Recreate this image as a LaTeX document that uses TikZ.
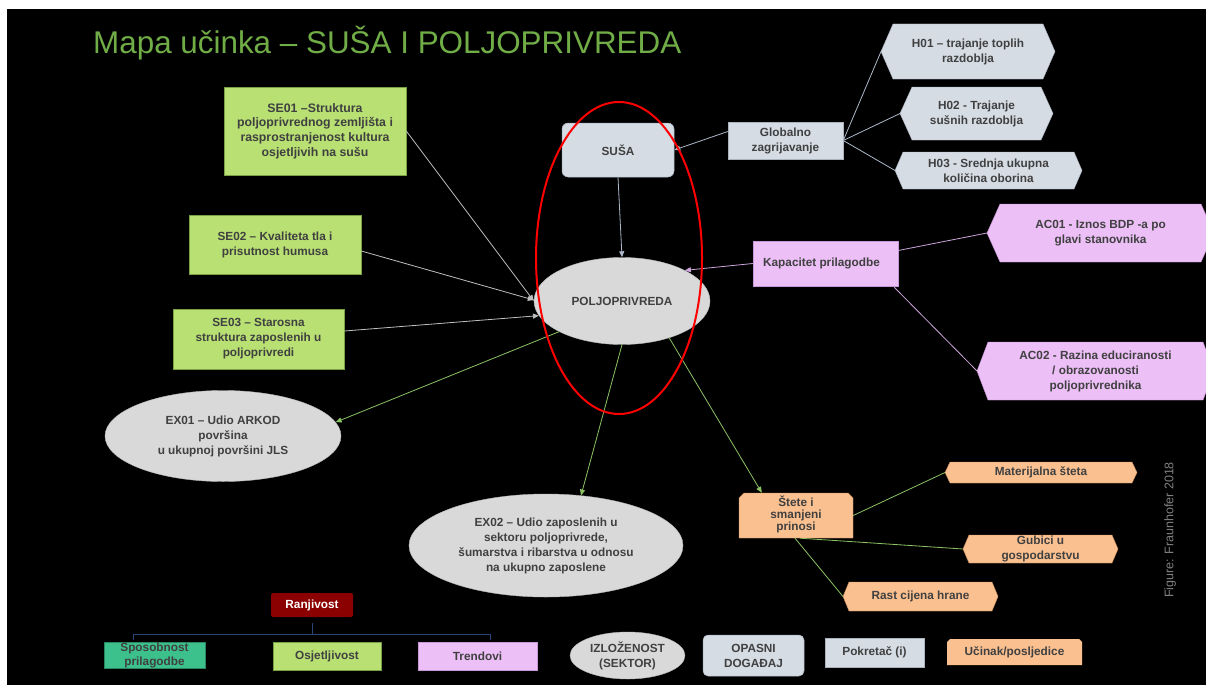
\documentclass[tikz,border=0pt]{standalone}
\usepackage{fontspec}
\setmainfont{Liberation Sans}
\usetikzlibrary{arrows.meta,shapes.geometric,calc}

\definecolor{titlegreen}{RGB}{112,173,71}
\definecolor{segreen}{RGB}{184,224,115}
\definecolor{segreenline}{RGB}{120,160,70}
\definecolor{exgray}{RGB}{217,217,217}
\definecolor{hzblue}{RGB}{214,220,228}
\definecolor{hzline}{RGB}{170,178,190}
\definecolor{acpink}{RGB}{236,191,247}
\definecolor{acline}{RGB}{200,150,215}
\definecolor{imporange}{RGB}{250,192,143}
\definecolor{impline}{RGB}{200,140,90}
\definecolor{myteal}{RGB}{60,192,140}
\definecolor{ranjred}{RGB}{139,0,0}
\definecolor{txtgray}{RGB}{64,64,64}
\definecolor{lgray}{RGB}{191,191,191}
\definecolor{arrgreen}{RGB}{140,195,100}
\definecolor{arrblue}{RGB}{173,185,202}
\definecolor{arrpink}{RGB}{205,165,220}
\definecolor{brkblue}{RGB}{40,70,120}
\definecolor{figgray}{RGB}{128,128,128}

% #1 name, #2 style, #3 x left, #4 x right, #5 y top, #6 y bottom, #7 indent, #8 text
\newcommand\hexbox[8]{%
  \draw[#2] (#3,{(#5+#6)/2}) -- (#3+#7,#5) -- (#4-#7,#5) -- (#4,{(#5+#6)/2})
    -- (#4-#7,#6) -- (#3+#7,#6) -- cycle;
  \node[txt] (#1) at ({(#3+#4)/2},{(#5+#6)/2}) {#8};
  \coordinate (#1-w) at (#3,{(#5+#6)/2});
}

\begin{document}
\begin{tikzpicture}[x=1pt,y=-1pt,
  txt/.style={font=\fontsize{11.8}{15}\selectfont\bfseries, text=txtgray, align=center, inner sep=0pt},
  sebox/.style={txt, draw=segreenline, fill=segreen, line width=0.6pt},
  exell/.style={txt, ellipse, fill=exgray, draw=exgray!85!black, line width=0.4pt},
  hzbox/.style={txt, fill=hzblue, draw=hzline, line width=0.5pt},
  hexhz/.style={fill=hzblue, draw=hzline, line width=0.4pt},
  hexac/.style={fill=acpink, draw=acline, line width=0.4pt},
  heximp/.style={fill=imporange, draw=impline, line width=0.4pt},
  arr/.style={-{Triangle[length=6pt,width=5pt]}, line width=0.8pt},
  ln/.style={line width=0.8pt},
  brk/.style={draw=brkblue, line width=0.8pt}
]
\fill[white] (0,0) rectangle (1206,685);
\fill[black] (7,9) rectangle (1206,685);
\useasboundingbox (0,0) rectangle (1206,685);

% title
\node[anchor=base west, inner sep=0pt, font=\fontsize{31.4}{31.4}\selectfont, text=titlegreen] (title) at (93,54)
  {Mapa učinka – SUŠA I POLJOPRIVREDA};

% sensitivity boxes
\node[sebox, font=\fontsize{12.3}{14.7}\selectfont\bfseries, minimum width=182, minimum height=88] (se01) at (315,131)
  {SE01 –Struktura\\poljoprivrednog zemljišta i\\rasprostranjenost kultura\\osjetljivih na sušu};
\node[sebox, minimum width=172, minimum height=59] (se02) at (275,244.5)
  {SE02 – Kvaliteta tla i\\prisutnost humusa};
\node[sebox, minimum width=171, minimum height=60] (se03) at (258.5,339)
  {SE03 – Starosna\\struktura zaposlenih u\\poljoprivredi};

% exposure ellipses
\node[exell, minimum width=236, minimum height=91] (ex01) at (223,436)
  {EX01 – Udio ARKOD\\površina\\u ukupnoj površini JLS};
\node[exell, minimum width=176, minimum height=87] (polj) at (622,301) {POLJOPRIVREDA};
\node[exell, minimum width=274, minimum height=103] (ex02) at (546,545.5)
  {EX02 – Udio zaposlenih u\\sektoru poljoprivrede,\\šumarstva i ribarstva u odnosu\\na ukupno zaposlene};

% hazard and driver
\node[hzbox, rounded corners=6pt, minimum width=112, minimum height=54] (susa) at (618,150) {SUŠA};
\node[hzbox, minimum width=115, minimum height=37] (glob) at (785.5,140.5) {Globalno\\zagrijavanje};
\hexbox{H01}{hexhz}{881}{1055}{24}{79}{12}{H01 – trajanje toplih\\razdoblja}
\hexbox{H02}{hexhz}{900}{1053}{87}{140}{12}{H02 - Trajanje\\sušnih razdoblja}
\hexbox{H03}{hexhz}{895}{1082}{152}{189}{8}{H03 - Srednja ukupna\\količina oborina}

% adaptive capacity
\node[txt, fill=acpink, draw=acline, line width=0.5pt, minimum width=145, minimum height=45] (kap) at (825.5,263.5)
  {\hspace*{-8pt}Kapacitet prilagodbe};
\hexbox{AC01}{hexac}{987}{1214}{204}{262}{13}{AC01 - Iznos BDP -a po\\glavi stanovnika}
\hexbox{AC02}{hexac}{977}{1214}{342}{400}{11}{AC02 - Razina educiranosti\\/ obrazovanosti\\poljoprivrednika}

% impacts
\fill[imporange, draw=impline, line width=0.4pt] (739,538) -- (739,498) -- (744,493) -- (848,493) -- (853,498) -- (853,538) -- cycle;
\node[txt, minimum width=114, minimum height=45] (stete) at (796,515.5) {\raisebox{-3pt}{\begin{tabular}{@{}c@{}}Štete i\\[-2.6pt]smanjeni\\[-2.6pt]prinosi\end{tabular}}};
\hexbox{mat}{heximp}{945}{1137}{462}{483}{5}{Materijalna šteta}
\hexbox{gub}{heximp}{963}{1118}{535}{563}{6}{Gubici u\\gospodarstvu}
\hexbox{rast}{heximp}{843}{998}{582}{611}{6}{Rast cijena hrane}

% credit
\node[rotate=90, inner sep=0pt, font=\fontsize{12.5}{12.5}\selectfont, text=figgray] (fig) at (1170,530) {Figure: Fraunhofer 2018};

% connectors
\draw[arr, draw=lgray] (se01.east) -- (polj.west);
\draw[arr, draw=lgray] ($(se02.east)+(0,6.5)$) -- ($(polj.west)+(0,-1)$);
\draw[arr, draw=lgray] ($(se03.east)+(0,-8)$) -- (polj.190);
\draw[arr, draw=arrblue] (susa.south) -- (polj.north);
\draw[arr, draw=arrblue] ($(glob.west)+(0,-9)$) -- (susa.east);
\draw[arr, draw=arrpink] (kap.west) -- (polj.26);
\draw[arr, draw=arrgreen] (polj.206) -- (ex01.7);
\draw[arr, draw=arrgreen] (polj.south) -- (ex02.55);
\draw[arr, draw=arrgreen] (polj.-38) -- ($(stete.north west)+(23,0)$);
\draw[ln, draw=arrblue] (glob.east) -- (H01-w);
\draw[ln, draw=arrblue] (glob.east) -- (H02-w);
\draw[ln, draw=arrblue] (glob.east) -- (H03-w);
\draw[ln, draw=arrpink] ($(kap.east)+(0,-13)$) -- (AC01-w);
\draw[ln, draw=arrpink] ($(kap.south east)+(-4,1)$) -- (AC02-w);
\draw[ln, draw=arrgreen] (stete.east) -- (mat-w);
\draw[ln, draw=arrgreen] ($(stete.south)+(4,0)$) -- (gub-w);
\draw[ln, draw=arrgreen] ($(stete.south)+(-1,0)$) -- (rast-w);

% focus ellipse
\node[draw=red, line width=2pt, ellipse, minimum width=166, minimum height=312, inner sep=0pt] (focus) at (619,258) {};

% legend
\node[txt, text=white, fill=ranjred, rounded corners=2pt, minimum width=82, minimum height=24] (ranj) at (312,605) {Ranjivost};
\node[txt, font=\fontsize{11.8}{14}\selectfont\bfseries, fill=myteal, draw=myteal!70!black, line width=0.5pt, minimum width=101, minimum height=26] (spos) at (154.5,655) {Sposobnost\\prilagodbe};
\node[sebox, minimum width=108, minimum height=28] (osj) at (327,656) {Osjetljivost};
\node[txt, fill=acpink, draw=acline, line width=0.5pt, minimum width=119, minimum height=28] (trend) at (477.5,656) {Trendovi};
\draw[brk] (133,640) -- (133,634) -- (490,634) -- (490,640);
\draw[brk] ($(ranj.south)+(0,6)$) -- ($(ranj.south)+(0,17)$);

\node[exell, minimum width=115, minimum height=47] (lexp) at (627.5,655.5) {IZLOŽENOST\\(SEKTOR)};
\node[hzbox, rounded corners=5pt, minimum width=101, minimum height=41] (lhaz) at (753.5,655.5) {OPASNI\\DOGAĐAJ};
\node[hzbox, minimum width=99, minimum height=29] (ldrv) at (874.5,652.5) {Pokretač (i)};
\fill[imporange] (947,665) -- (947,642) -- (950,639) -- (1079,639) -- (1082,642) -- (1082,665) -- cycle;
\node[txt, minimum width=135, minimum height=26] (limp) at (1014.5,652) {Učinak/posljedice};
\end{tikzpicture}
\end{document}
